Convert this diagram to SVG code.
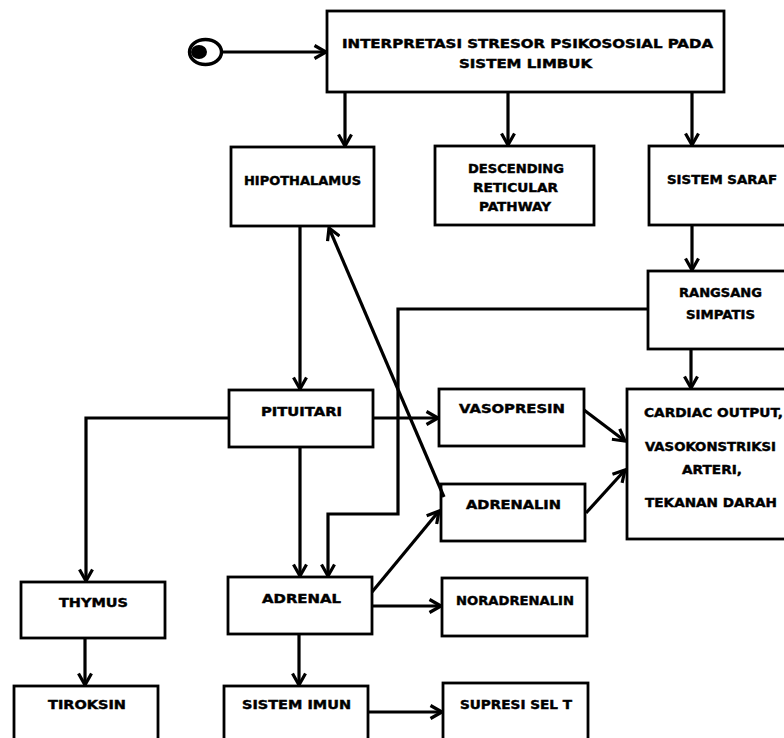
<svg xmlns="http://www.w3.org/2000/svg" width="784" height="738" viewBox="0 0 784 738">
<style>
.box{fill:#fff;stroke:#000;stroke-width:2.8}
.t{font-family:"DejaVu Sans",Verdana,sans-serif;font-weight:bold;font-size:13px;fill:#000;stroke:#000;stroke-width:0.45;text-anchor:middle}
.c{fill:none;stroke:#000;stroke-width:3.2;stroke-linejoin:miter}
</style>
<defs>
<marker id="ah" viewBox="0 0 16 16" refX="14" refY="8" markerWidth="16" markerHeight="16" markerUnits="userSpaceOnUse" orient="auto">
<path d="M2.5,1.5 L14,8 L2.5,14.5" fill="none" stroke="#000" stroke-width="3.2"/>
</marker>
</defs>
<rect width="784" height="738" fill="#fff"/>
<g id="start">
<ellipse cx="205.5" cy="52" rx="16" ry="12.5" fill="#fff" stroke="#000" stroke-width="3.4"/>
<ellipse cx="199" cy="52" rx="8" ry="7" fill="#000"/>
</g>
<g id="n-interpretasi">
<rect class="box" x="327" y="11" width="397" height="81"/>
<text class="t" x="527.5" y="48" textLength="371" lengthAdjust="spacingAndGlyphs">INTERPRETASI STRESOR PSIKOSOSIAL PADA</text>
<text class="t" x="525.5" y="68" textLength="133" lengthAdjust="spacingAndGlyphs">SISTEM LIMBUK</text>
</g>
<g id="n-hipothalamus">
<rect class="box" x="231" y="147" width="143" height="79"/>
<text class="t" x="302.5" y="185" textLength="117" lengthAdjust="spacingAndGlyphs">HIPOTHALAMUS</text>
</g>
<g id="n-descending">
<rect class="box" x="435" y="146" width="159" height="79"/>
<text class="t" x="516" y="173" textLength="96" lengthAdjust="spacingAndGlyphs">DESCENDING</text>
<text class="t" x="515.5" y="192" textLength="85" lengthAdjust="spacingAndGlyphs">RETICULAR</text>
<text class="t" x="515" y="211" textLength="72" lengthAdjust="spacingAndGlyphs">PATHWAY</text>
</g>
<g id="n-sistemsaraf">
<rect class="box" x="649" y="146" width="150" height="79"/>
<text class="t" x="722" y="184" textLength="110" lengthAdjust="spacingAndGlyphs">SISTEM  SARAF</text>
</g>
<g id="n-rangsang">
<rect class="box" x="648" y="271" width="150" height="78"/>
<text class="t" x="720.5" y="297" textLength="83" lengthAdjust="spacingAndGlyphs">RANGSANG</text>
<text class="t" x="720.5" y="319" textLength="69" lengthAdjust="spacingAndGlyphs">SIMPATIS</text>
</g>
<g id="n-pituitari">
<rect class="box" x="229" y="390" width="144" height="57"/>
<text class="t" x="301.5" y="416" textLength="81" lengthAdjust="spacingAndGlyphs">PITUITARI</text>
</g>
<g id="n-vasopresin">
<rect class="box" x="439" y="389" width="145" height="57"/>
<text class="t" x="512" y="413" textLength="106" lengthAdjust="spacingAndGlyphs">VASOPRESIN</text>
</g>
<g id="n-adrenalin">
<rect class="box" x="441" y="484" width="144" height="57"/>
<text class="t" x="513.5" y="509" textLength="95" lengthAdjust="spacingAndGlyphs">ADRENALIN</text>
</g>
<g id="n-cardiac">
<rect class="box" x="627" y="389" width="172" height="150"/>
<text class="t" x="713.5" y="417" textLength="139" lengthAdjust="spacingAndGlyphs">CARDIAC OUTPUT,</text>
<text class="t" x="710.5" y="451" textLength="131" lengthAdjust="spacingAndGlyphs">VASOKONSTRIKSI</text>
<text class="t" x="712" y="474" textLength="60" lengthAdjust="spacingAndGlyphs">ARTERI,</text>
<text class="t" x="711" y="507" textLength="132" lengthAdjust="spacingAndGlyphs">TEKANAN  DARAH</text>
</g>
<g id="n-thymus">
<rect class="box" x="21" y="582" width="144" height="56"/>
<text class="t" x="93.5" y="607" textLength="69" lengthAdjust="spacingAndGlyphs">THYMUS</text>
</g>
<g id="n-adrenal">
<rect class="box" x="228" y="577" width="144" height="57"/>
<text class="t" x="301.5" y="603" textLength="79" lengthAdjust="spacingAndGlyphs">ADRENAL</text>
</g>
<g id="n-noradrenalin">
<rect class="box" x="442" y="578" width="145" height="58"/>
<text class="t" x="515" y="605" textLength="118" lengthAdjust="spacingAndGlyphs">NORADRENALIN</text>
</g>
<g id="n-tiroksin">
<rect class="box" x="14" y="686" width="144" height="70"/>
<text class="t" x="87" y="709" textLength="78" lengthAdjust="spacingAndGlyphs">TIROKSIN</text>
</g>
<g id="n-sistemimun">
<rect class="box" x="224" y="686" width="144" height="70"/>
<text class="t" x="296.5" y="709" textLength="109" lengthAdjust="spacingAndGlyphs">SISTEM  IMUN</text>
</g>
<g id="n-supresi">
<rect class="box" x="443" y="683" width="145" height="70"/>
<text class="t" x="516" y="709" textLength="112" lengthAdjust="spacingAndGlyphs">SUPRESI  SEL T</text>
</g>
<g id="connectors">
<path class="c" d="M222,52 H326" marker-end="url(#ah)"/>
<path class="c" d="M345,92 V146" marker-end="url(#ah)"/>
<path class="c" d="M508,92 V145" marker-end="url(#ah)"/>
<path class="c" d="M692,92 V145" marker-end="url(#ah)"/>
<path class="c" d="M692,225 V270" marker-end="url(#ah)"/>
<path class="c" d="M691,349 V388" marker-end="url(#ah)"/>
<path class="c" d="M300,226 V389" marker-end="url(#ah)"/>
<path class="c" d="M648,309 H398 V514 H328 V576" marker-end="url(#ah)"/>
<path class="c" d="M373,418 H438" marker-end="url(#ah)"/>
<path class="c" d="M229,418 H86 V581" marker-end="url(#ah)"/>
<path class="c" d="M300,447 V576" marker-end="url(#ah)"/>
<path class="c" d="M444,497 L329,228" marker-end="url(#ah)"/>
<path class="c" d="M372,592 L439,511" marker-end="url(#ah)"/>
<path class="c" d="M372,606 H441" marker-end="url(#ah)"/>
<path class="c" d="M584,410 L625,441" marker-end="url(#ah)"/>
<path class="c" d="M586,513 L625,470" marker-end="url(#ah)"/>
<path class="c" d="M299,634 V685" marker-end="url(#ah)"/>
<path class="c" d="M85,638 V685" marker-end="url(#ah)"/>
<path class="c" d="M369,712 H442" marker-end="url(#ah)"/>
</g>
</svg>
